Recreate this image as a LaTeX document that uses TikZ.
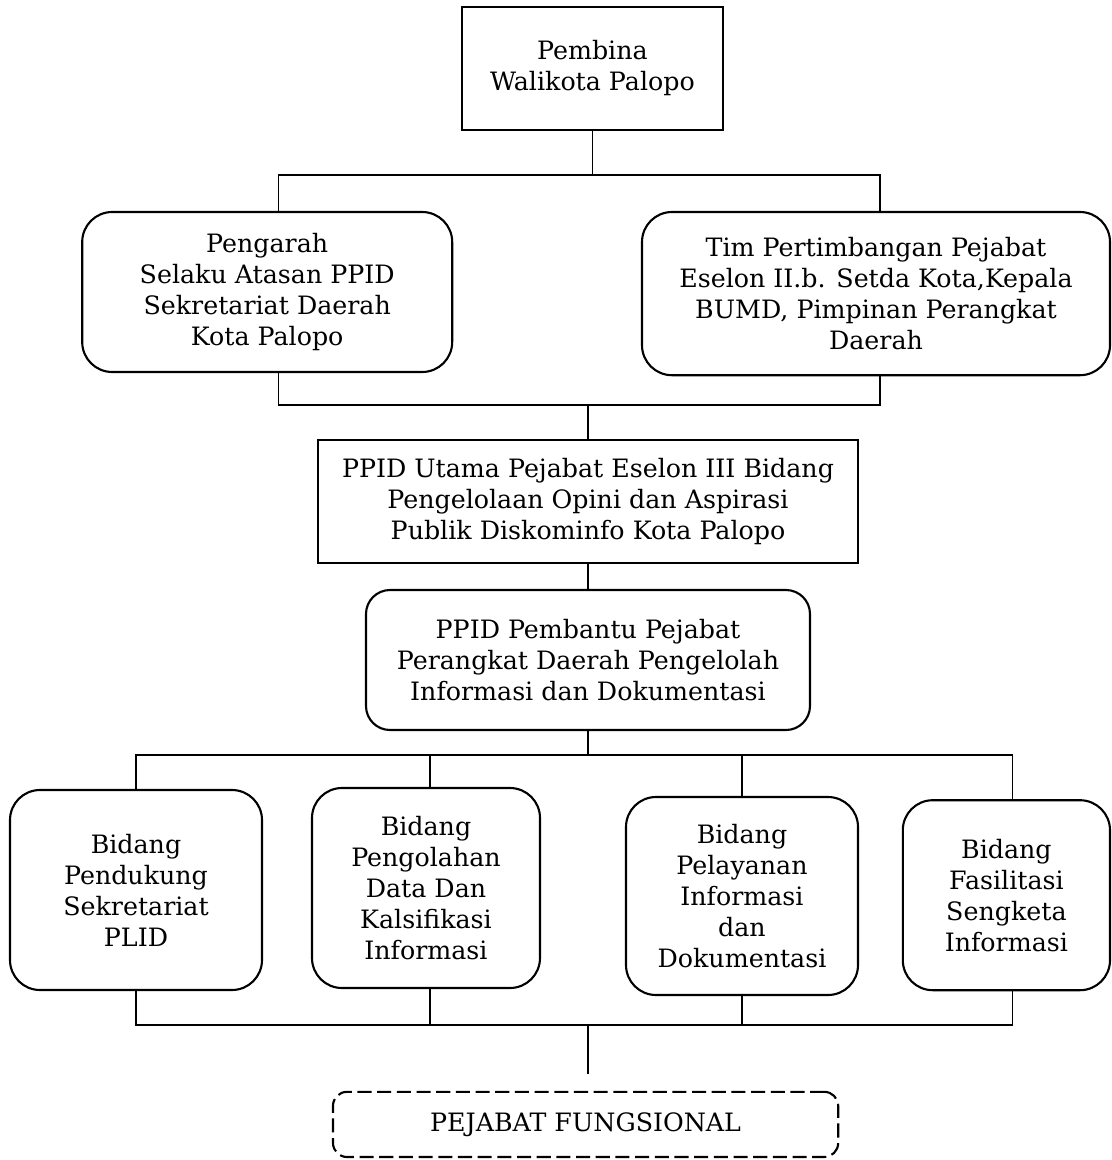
\documentclass[tikz,border=0pt]{standalone}
\usepackage{fontspec}
\setmainfont{DejaVu Serif}
\begin{document}
\begin{tikzpicture}[every node/.style={font=\fontsize{18}{22}\selectfont,align=center},
  sharpbox/.style={draw,line width=1.5pt,inner sep=2pt},
  roundbox/.style={draw,line width=1.5pt,rounded corners=0.75cm,inner sep=2pt},
  dashbox/.style={draw,line width=1.5pt,dashed,dash pattern=on 10pt off 4pt,rounded corners=0.35cm},
  link/.style={line width=1.2pt}]
  \useasboundingbox (0,0) rectangle (27.8,-29);
  % top level
  \node[sharpbox,minimum width=6.53cm,minimum height=3.08cm] (pembina) at (14.81,-1.71) {Pembina\\Walikota Palopo};
  \node[roundbox,minimum width=9.25cm,minimum height=4.0cm] (pengarah) at (6.68,-7.3) {Pengarah\\Selaku Atasan PPID\\Sekretariat Daerah\\Kota Palopo};
  \node[roundbox,minimum width=11.7cm,minimum height=4.08cm] (tim) at (21.9,-7.34) {Tim Pertimbangan Pejabat\\Eselon II.b. Setda Kota,Kepala\\BUMD, Pimpinan Perangkat\\Daerah};
  % PPID
  \node[sharpbox,minimum width=13.5cm,minimum height=3.08cm] (utama) at (14.7,-12.54) {PPID Utama Pejabat Eselon III Bidang\\Pengelolaan Opini dan Aspirasi\\Publik Diskominfo Kota Palopo};
  \node[roundbox,rounded corners=0.6cm,minimum width=11.1cm,minimum height=3.5cm] (pembantu) at (14.7,-16.5) {PPID Pembantu Pejabat\\Perangkat Daerah Pengelolah\\Informasi dan Dokumentasi};
  % bidang
  \node[roundbox,minimum width=6.3cm,minimum height=5.0cm] (bidA) at (3.4,-22.25) {Bidang\\Pendukung\\Sekretariat\\PLID};
  \node[roundbox,minimum width=5.7cm,minimum height=5.0cm] (bidB) at (10.65,-22.2) {Bidang\\Pengolahan\\Data Dan\\Kalsifikasi\\Informasi};
  \node[roundbox,minimum width=5.8cm,minimum height=4.95cm] (bidC) at (18.55,-22.4) {Bidang\\Pelayanan\\Informasi\\dan\\Dokumentasi};
  \node[roundbox,minimum width=5.18cm,minimum height=4.75cm] (bidD) at (25.16,-22.38) {Bidang\\Fasilitasi\\Sengketa\\Informasi};
  \node[dashbox,minimum width=12.63cm,minimum height=1.63cm] (fungsional) at (14.64,-28.11) {PEJABAT FUNGSIONAL};
  % junctions
  \coordinate (jTop) at (14.81,-4.375);
  \coordinate (jMid) at (14.7,-10.125);
  \coordinate (jBid) at (14.7,-18.875);
  \coordinate (jLow) at (14.7,-25.625);
  % connectors
  \draw[link] (pembina) -- (jTop);
  \draw[link] ([xshift=0.28cm]pengarah.north) |- (jTop) -| ([xshift=0.1cm]tim.north);
  \draw[link] ([xshift=0.28cm]pengarah.south) |- (jMid) -| ([xshift=0.1cm]tim.south);
  \draw[link] (jMid) -- (utama);
  \draw[link] (utama) -- (pembantu);
  \draw[link] (pembantu) -- (jBid);
  \draw[link] (bidA.north) |- (jBid) -| ([xshift=0.15cm]bidD.north);
  \draw[link] ([xshift=0.1cm]bidB.north) -- ([xshift=0.1cm]bidB.north |- jBid);
  \draw[link] (bidC.north) -- (bidC.north |- jBid);
  \draw[link] (bidA.south) |- (jLow) -| ([xshift=0.15cm]bidD.south);
  \draw[link] ([xshift=0.1cm]bidB.south) -- ([xshift=0.1cm]bidB.south |- jLow);
  \draw[link] (bidC.south) -- (bidC.south |- jLow);
  \draw[link,shorten >=0.42cm] (jLow) -- (jLow |- fungsional.north);
\end{tikzpicture}
\end{document}
